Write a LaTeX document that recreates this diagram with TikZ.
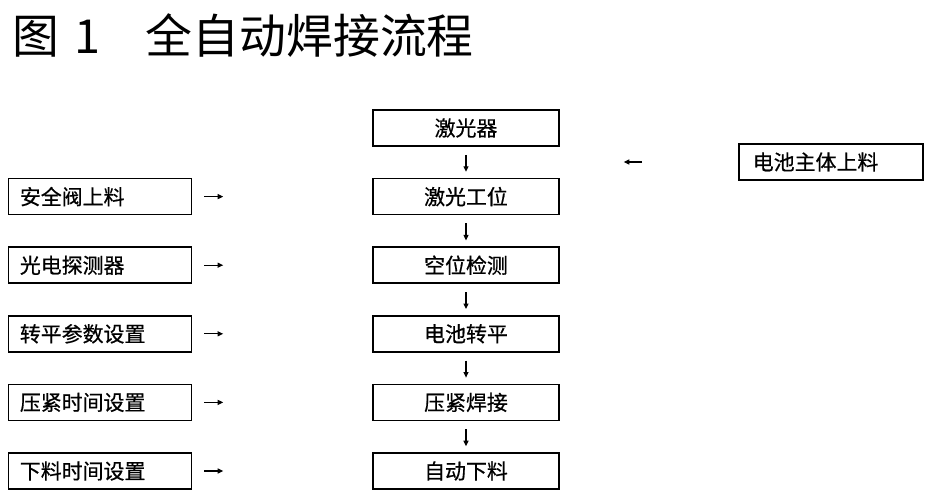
\documentclass[tikz,border=0pt]{standalone}
\usepackage{fontspec}
\newfontfamily\cjk{Noto Sans CJK SC}
\newfontfamily\cjkbox{Noto Sans CJK SC}[FakeBold=0.6]
\usetikzlibrary{positioning, arrows.meta}

\tikzset{
  box/.style={draw, rectangle, line width=1.6bp, inner sep=0pt,
    minimum height=36bp, font=\cjkbox\fontsize{21}{24}\selectfont},
  midbox/.style={box, minimum width=186bp},
  sidebox/.style={box, text width=160bp, inner xsep=11.5bp, align=left},
  flow/.style={-{Triangle[length=5.5bp,width=5bp]}, line width=1.1bp}
}

\begin{document}
\begin{tikzpicture}[x=1bp, y=-1bp, node distance=31bp]
\useasboundingbox (0,0) rectangle (943,501);
\node[anchor=west, inner sep=0pt, font=\cjk\fontsize{47}{50}\selectfont]
    (title) at (12,36) {图\hspace{16bp}1\hspace{45bp}全自动焊接流程};

% main line
\node[midbox] (laser) at (466,128) {激光器};
\node[midbox, below=of laser] (station) {激光工位};
\node[midbox, below=of station] (check) {空位检测};
\node[midbox, below=of check] (flat) {电池转平};
\node[midbox, below=of flat] (weld) {压紧焊接};
\node[midbox, below=of weld] (unload) {自动下料};

% settings on the left
\node[sidebox, left=180bp of station] (valve) {安全阀上料};
\node[sidebox, left=180bp of check] (sensor) {光电探测器};
\node[sidebox, left=180bp of flat] (flatset) {转平参数设置};
\node[sidebox, left=180bp of weld] (pressset) {压紧时间设置};
\node[sidebox, left=180bp of unload] (unloadset) {下料时间设置};

% feed on the right
\node[sidebox, text width=156bp, inner xsep=14bp, anchor=west]
    (cell) at (738,162) {电池主体上料};
\coordinate (cellin) at (station.east |- cell.west);

\draw
    (laser) edge[flow, shorten <=8bp, shorten >=6bp] (station)
    (station) edge[flow, shorten <=8bp, shorten >=6bp] (check)
    (check) edge[flow, shorten <=8bp, shorten >=6bp] (flat)
    (flat) edge[flow, shorten <=8bp, shorten >=6bp] (weld)
    (weld) edge[flow, shorten <=8bp, shorten >=6bp] (unload)
    (valve) edge[flow, shorten <=12bp, shorten >=149bp] (station)
    (sensor) edge[flow, shorten <=12bp, shorten >=149bp] (check)
    (flatset) edge[flow, shorten <=12bp, shorten >=149bp] (flat)
    (pressset) edge[flow, shorten <=12bp, shorten >=149bp] (weld)
    (unloadset) edge[flow, shorten <=12bp, shorten >=149bp] (unload)
    (cell) edge[flow, shorten <=96bp, shorten >=64bp] (cellin);
\end{tikzpicture}
\end{document}
